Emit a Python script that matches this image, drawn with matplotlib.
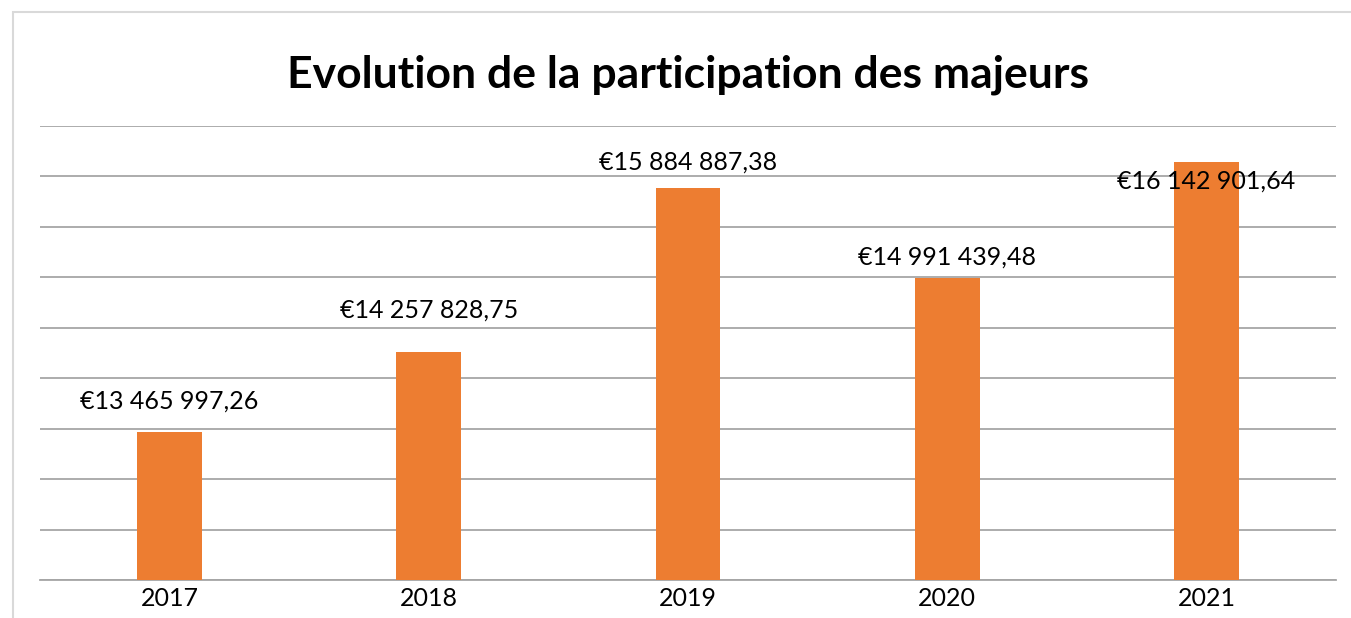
import matplotlib.pyplot as plt
from matplotlib.patches import Rectangle

annees = ["2017", "2018", "2019", "2020", "2021"]
montants = [13465997.26, 14257828.75, 15884887.38, 14991439.48, 16142901.64]
etiquettes = ["€13 465 997,26", "€14 257 828,75", "€15 884 887,38", "€14 991 439,48", "€16 142 901,64"]
# décalage vertical des étiquettes (en points), comme placées à la main dans l'original
decalages = [22, 30, 19, 15, -14]

plt.rcParams['font.family'] = ['Lato', 'DejaVu Sans']

fig = plt.figure(figsize=(13.51, 6.18), dpi=100)
ax = fig.add_axes([40/1351, 38/618, 1296/1351, 454/618])

# cadre gris clair du graphique
fig.patches.append(Rectangle((12.5/1351, -0.1), 1.2, 1 - 12.5/618 + 0.1, transform=fig.transFigure,
                             fill=False, edgecolor='#d9d9d9', linewidth=1.5))

x = list(range(len(annees)))
bars = ax.bar(x, montants, width=0.25, color='#ed7d31', zorder=3)

ax.set_xlim(-0.5, 4.5)
ax.set_ylim(12000000, 16500000)
ax.set_yticks([12000000 + i*500000 for i in range(10)])
ax.yaxis.grid(True, color='#a6a6a6', linewidth=1.3, zorder=0)
ax.tick_params(axis='y', left=False, labelleft=False)
ax.tick_params(axis='x', length=0, labelsize=18, pad=5)
ax.set_xticks(x)
ax.set_xticklabels(annees)
for s in ['top', 'right', 'left']:
    ax.spines[s].set_visible(False)
ax.spines['bottom'].set_color('#a6a6a6')
ax.spines['bottom'].set_linewidth(1.3)

for bar, lab, dy in zip(bars, etiquettes, decalages):
    h = bar.get_height()
    ax.annotate(lab, (bar.get_x() + bar.get_width()/2, h), xytext=(0, dy),
                textcoords='offset points', ha='center', va='center', fontsize=18, zorder=4)

ax.set_title("Evolution de la participation des majeurs", fontsize=32, fontweight='bold', pad=28)

plt.savefig("out.png", dpi=100)
